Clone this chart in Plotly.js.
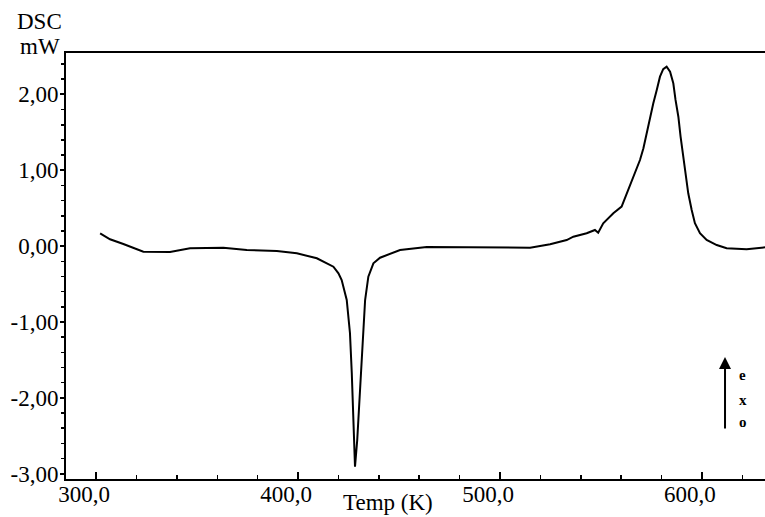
<!DOCTYPE html>
<html>
<head>
<meta charset="utf-8">
<script src="https://cdn.plot.ly/plotly-3.0.1.min.js"></script>
<style>html,body{margin:0;padding:0;background:#fff;}</style>
</head>
<body>
<div id="chart" style="width:765px;height:517px;"></div>
<script>
// Temperature (K)
var temp = [302.0, 306.9, 313.5, 323.4, 336.6, 346.5, 363.0, 374.6, 389.5, 399.4,
  409.3, 410.9, 415.8, 417.5, 420.0, 421.6, 424.1, 425.7, 426.6, 427.4,
  428.2, 429.3, 430.7, 432.0, 433.2, 434.8, 437.3, 440.6, 443.9, 450.5,
  463.7, 490.1, 514.9, 524.8, 529.7, 533.0, 536.3, 539.6, 542.9, 547.0,
  548.6, 551.1, 556.1, 560.2, 562.7, 565.9, 569.3, 571.0, 572.6, 574.3,
  575.9, 577.6, 579.2, 580.8, 582.5, 584.2, 585.8, 586.9, 588.3, 589.4,
  590.7, 592.1, 593.2, 594.9, 596.5, 599.0, 602.3, 607.3, 612.2, 622.1,
  631.2];
// DSC signal (mW)
var dsc = [0.169, 0.090, 0.028, -0.074, -0.078, -0.029, -0.021, -0.051, -0.065, -0.095,
  -0.161, -0.183, -0.249, -0.272, -0.359, -0.447, -0.711, -1.146, -1.673, -2.465,
  -2.909, -2.557, -1.898, -1.239, -0.711, -0.404, -0.227, -0.153, -0.117, -0.051,
  -0.012, -0.012, -0.021, 0.024, 0.058, 0.080, 0.124, 0.146, 0.169, 0.212,
  0.177, 0.301, 0.433, 0.520, 0.696, 0.915, 1.135, 1.290, 1.488, 1.685,
  1.883, 2.059, 2.234, 2.333, 2.366, 2.300, 2.147, 1.927, 1.706, 1.443,
  1.179, 0.915, 0.696, 0.476, 0.301, 0.169, 0.080, 0.014, -0.029, -0.042,
  -0.016];

var xTickVals = [300, 400, 500, 600];
var xTickText = ['300,0', '400,0', '500,0', '600,0'];
var yTickVals = [2, 1, 0, -1, -2, -3];
var yTickText = ['2,00', '1,00', '0,00', '-1,00', '-2,00', '-3,00'];

var font = {family: 'Liberation Serif, Times New Roman, serif', size: 23, color: '#000'};
var smallFont = {family: 'Liberation Serif, Times New Roman, serif', size: 15, color: '#000'};

var trace = {
  x: temp, y: dsc, type: 'scatter', mode: 'lines',
  line: {color: '#000', width: 2}, hoverinfo: 'skip'
};

var layout = {
  width: 765, height: 517,
  margin: {l: 66, r: 0, t: 53, b: 38, pad: 0},
  paper_bgcolor: '#fff', plot_bgcolor: '#fff',
  showlegend: false,
  font: font,
  xaxis: {
    range: [285.1, 631.2],
    tickmode: 'array', tickvals: xTickVals, ticktext: xTickText,
    ticks: 'inside', ticklen: 7, tickwidth: 2, tickcolor: '#000',
    minor: {tickmode: 'linear', tick0: 300, dtick: 20, ticks: 'inside', ticklen: 4, tickwidth: 1.5, tickcolor: '#000'},
    showline: true, linecolor: '#000', linewidth: 2, mirror: true,
    showgrid: false, zeroline: false,
    ticklabelshift: -12,
    ticklabelstandoff: -7,
    tickfont: font
  },
  yaxis: {
    range: [-3.071, 2.546],
    tickmode: 'array', tickvals: yTickVals, ticktext: yTickText,
    ticks: 'outside', ticklen: 4, tickwidth: 2, tickcolor: '#000',
    minor: {tickmode: 'linear', tick0: 0, dtick: 0.2, ticks: 'outside', ticklen: 3, tickwidth: 1.5, tickcolor: '#000'},
    showline: true, linecolor: '#000', linewidth: 2, mirror: false,
    showgrid: false, zeroline: false,
    ticklabelstandoff: -3,
    tickfont: font
  },
  annotations: [
    {text: 'DSC', xref: 'paper', yref: 'paper', x: -0.0372, y: 1.0728, xanchor: 'center', yanchor: 'middle', showarrow: false, font: font},
    {text: 'mW', xref: 'paper', yref: 'paper', x: -0.0372, y: 1.0164, xanchor: 'center', yanchor: 'middle', showarrow: false, font: font},
    {text: 'Temp (K)', xref: 'paper', yref: 'paper', x: 0.4607, y: -0.0563, xanchor: 'center', yanchor: 'middle', showarrow: false, font: font},
    {text: '', xref: 'paper', yref: 'paper', x: 0.9428, y: 0.2864, ax: 0, ay: 73, axref: 'pixel', ayref: 'pixel',
      showarrow: true, arrowhead: 2, arrowsize: 1.2, arrowwidth: 2, arrowcolor: '#000'},
    {text: '<b>e</b>', xref: 'paper', yref: 'paper', x: 0.9685, y: 0.2441, xanchor: 'center', yanchor: 'middle', showarrow: false, font: smallFont},
    {text: '<b>x</b>', xref: 'paper', yref: 'paper', x: 0.9685, y: 0.1854, xanchor: 'center', yanchor: 'middle', showarrow: false, font: smallFont},
    {text: '<b>o</b>', xref: 'paper', yref: 'paper', x: 0.9685, y: 0.1338, xanchor: 'center', yanchor: 'middle', showarrow: false, font: smallFont}
  ]
};

Plotly.newPlot('chart', [trace], layout, {staticPlot: true, displayModeBar: false});
</script>
</body>
</html>
